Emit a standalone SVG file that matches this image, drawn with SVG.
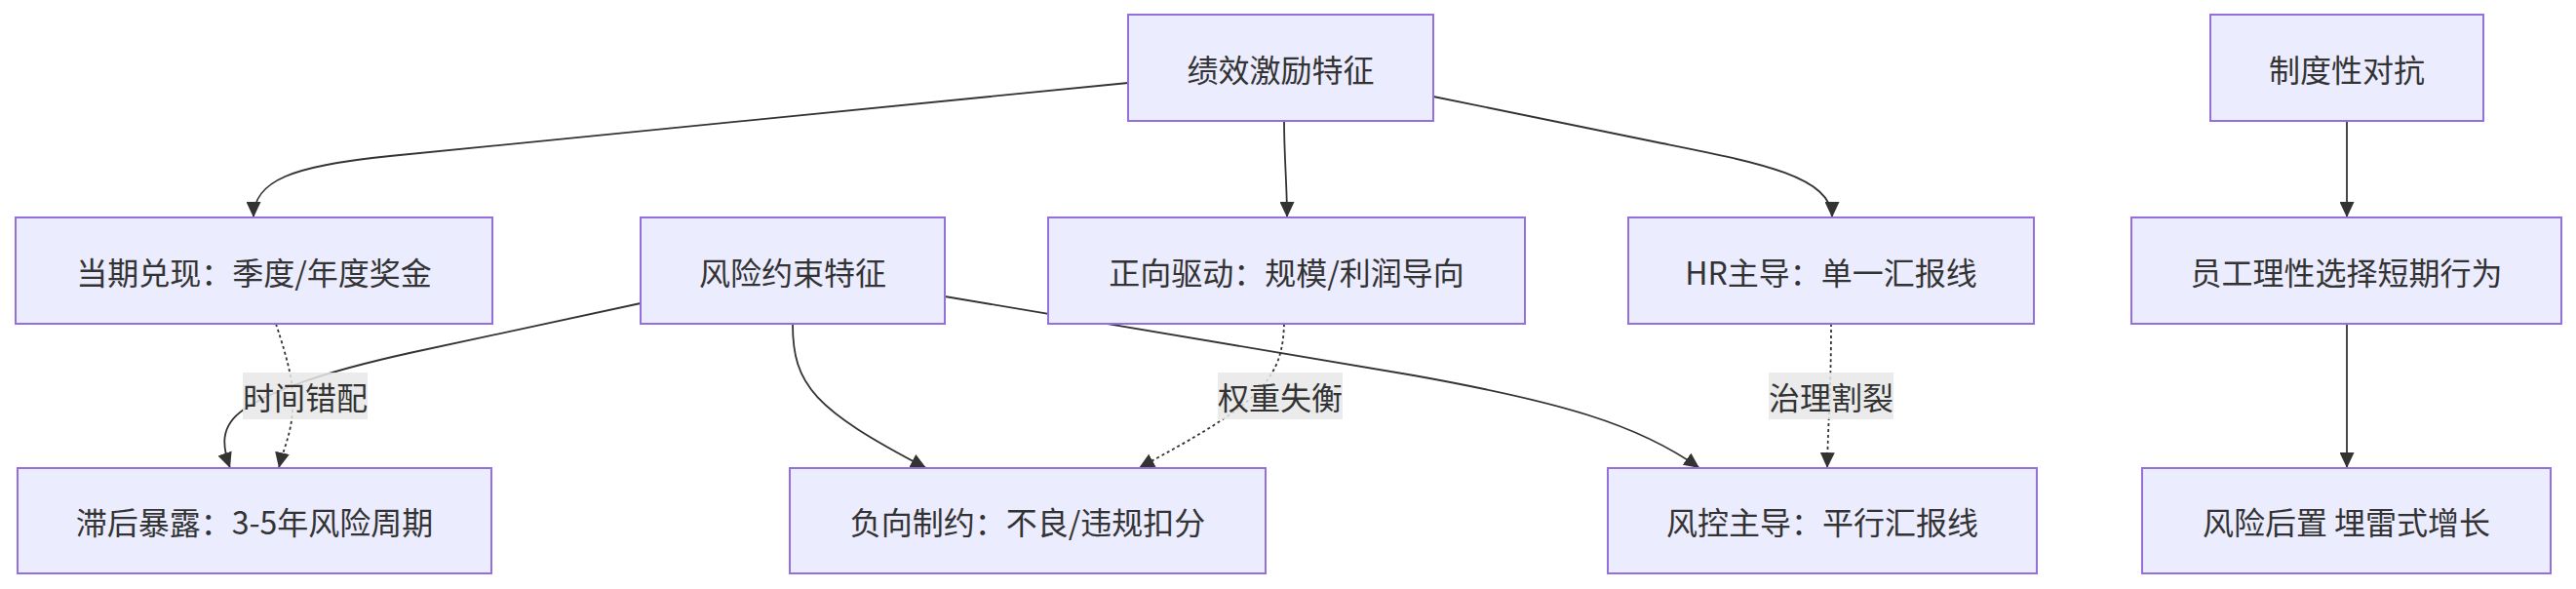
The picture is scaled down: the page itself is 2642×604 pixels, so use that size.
<svg xmlns="http://www.w3.org/2000/svg" width="2642" height="604" viewBox="0 0 2642 604">
<style>
.node rect{fill:#ECECFF;stroke:#9370DB;stroke-width:2}
.node text,.lbl text{font-family:"Noto Sans CJK SC","Noto Sans",sans-serif;font-size:32px;fill:#333;text-anchor:middle;dominant-baseline:central}
.e{fill:none;stroke:#333;stroke-width:1.8;marker-end:url(#arr)}
.d{stroke-dasharray:3 3}
.lbl rect{fill:#e8e8e8;fill-opacity:0.85}
</style>
<defs>
<marker id="arr" viewBox="0 0 10 10" refX="10" refY="5" markerUnits="userSpaceOnUse" markerWidth="16" markerHeight="15" orient="auto" preserveAspectRatio="none">
<path d="M0,0 L10,5 L0,10 z" fill="#333"/>
</marker>
</defs>
<rect width="2642" height="604" fill="#fff"/>
<g id="connectors">
<path class="e" d="M1157,85 L400,160 C300,170 260,185 260,223"/>
<path class="e" d="M1317,124 C1317,160 1320,190 1320,223"/>
<path class="e" d="M1470,99 L1700,146 C1800,166 1879,180 1879,223"/>
<path class="e" d="M2407,124 L2407,223"/>
<path class="e" d="M2407,332 L2407,480"/>
<path class="e d" d="M283,332 C296,372 302,395 300,420 C299,445 290,462 286,480"/>
<path class="e" d="M657,311 L420,362 C330,382 280,400 250,420 C225,437 228,458 236,480"/>
<path class="e" d="M813,332 C813,395 835,420 950,480"/>
<path class="e" d="M969,304 L1450,385 C1600,412 1680,435 1743,480"/>
<path class="e d" d="M1317,332 C1316,370 1305,390 1275,415 C1240,442 1200,462 1168,480"/>
<path class="e d" d="M1878,332 C1878,400 1875,430 1874,480"/>
</g>
<g id="edge-labels">
<g class="lbl"><rect x="249" y="382" width="128" height="48"/><text x="313" y="406">时间错配</text></g>
<g class="lbl"><rect x="1249" y="382" width="128" height="48"/><text x="1313" y="406">权重失衡</text></g>
<g class="lbl"><rect x="1814" y="382" width="128" height="48"/><text x="1878" y="406">治理割裂</text></g>
</g>
<g id="n-jixiao" class="node"><rect x="1157" y="15" width="313" height="109"/><text x="1313.5" y="70">绩效激励特征</text></g>
<g id="n-zhidu" class="node"><rect x="2267" y="15" width="280" height="109"/><text x="2407" y="70">制度性对抗</text></g>
<g id="n-dangqi" class="node"><rect x="16" y="223" width="489" height="109"/><text x="260.5" y="278">当期兑现：季度/年度奖金</text></g>
<g id="n-fengxian" class="node"><rect x="657" y="223" width="312" height="109"/><text x="813" y="278">风险约束特征</text></g>
<g id="n-zhengxiang" class="node"><rect x="1075" y="223" width="489" height="109"/><text x="1319.5" y="278">正向驱动：规模/利润导向</text></g>
<g id="n-hr" class="node"><rect x="1670" y="223" width="416" height="109"/><text x="1878" y="278">HR主导：单一汇报线</text></g>
<g id="n-yuangong" class="node"><rect x="2186" y="223" width="441" height="109"/><text x="2406.5" y="278">员工理性选择短期行为</text></g>
<g id="n-zhihou" class="node"><rect x="18" y="480" width="486" height="108"/><text x="261" y="534">滞后暴露：3-5年风险周期</text></g>
<g id="n-fuxiang" class="node"><rect x="810" y="480" width="488" height="108"/><text x="1054" y="534">负向制约：不良/违规扣分</text></g>
<g id="n-fengkong" class="node"><rect x="1649" y="480" width="440" height="108"/><text x="1869" y="534">风控主导：平行汇报线</text></g>
<g id="n-houzhi" class="node"><rect x="2197" y="480" width="419" height="108"/><text x="2406.5" y="534">风险后置 埋雷式增长</text></g>
</svg>
